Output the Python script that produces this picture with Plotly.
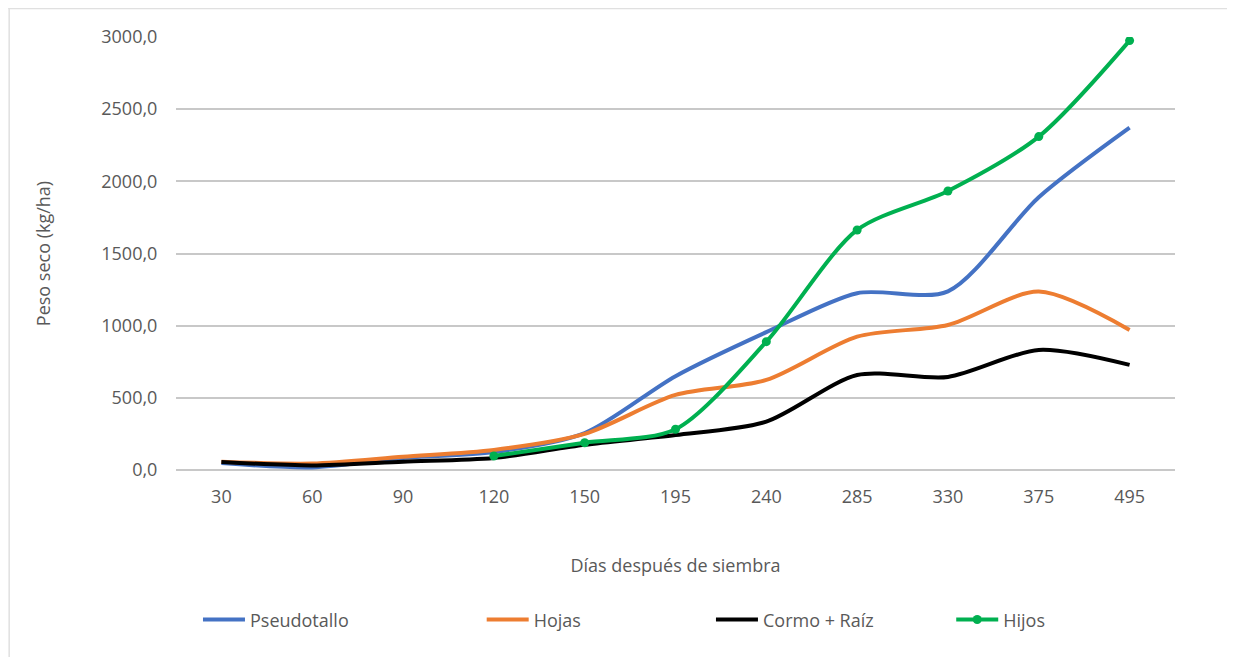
import plotly.graph_objects as go

dias = ["30", "60", "90", "120", "150", "195", "240", "285", "330", "375", "495"]

pseudotallo = [48, 18, 83, 125, 256, 650, 955, 1225, 1238, 1890, 2372]
hojas = [58, 45, 92, 139, 250, 520, 624, 924, 1005, 1236, 970]
cormo_raiz = [55, 32, 58, 83, 175, 242, 335, 658, 645, 832, 728]
hijos_x = ["120", "150", "195", "240", "285", "330", "375", "495"]
hijos = [97, 189, 282, 889, 1663, 1933, 2310, 2975]

gris = "#595959"
fuente = "Open Sans, Liberation Sans, Arial, sans-serif"
tam = 18

fig = go.Figure()

fig.add_trace(go.Scatter(x=dias, y=pseudotallo, name="Pseudotallo", mode="lines", legend="legend",
                         line=dict(color="#4472C4", width=4, shape="spline", smoothing=0.8)))
fig.add_trace(go.Scatter(x=dias, y=hojas, name="Hojas", mode="lines", legend="legend2",
                         line=dict(color="#ED7D31", width=4, shape="spline", smoothing=0.8)))
fig.add_trace(go.Scatter(x=dias, y=cormo_raiz, name="Cormo + Raíz", mode="lines", legend="legend3",
                         line=dict(color="#000000", width=4, shape="spline", smoothing=0.8)))
fig.add_trace(go.Scatter(x=hijos_x, y=hijos, name="Hijos", mode="lines+markers", legend="legend4",
                         line=dict(color="#00B050", width=4, shape="spline", smoothing=0.8),
                         marker=dict(size=9, color="#00B050")))

# borde superior e izquierdo del area del grafico
fig.add_shape(type="line", xref="paper", yref="paper",
              x0=-0.168, x1=1.08, y0=1.066, y1=1.066,
              line=dict(color="#e0e0e0", width=1.5))
fig.add_shape(type="line", xref="paper", yref="paper",
              x0=-0.167, x1=-0.167, y0=1.066, y1=-0.46,
              line=dict(color="#e0e0e0", width=1.5))


def leyenda(xpos):
    return dict(orientation="h", x=xpos, xanchor="left", y=-0.346, yanchor="middle",
                font=dict(size=tam, color=gris), itemwidth=42, bgcolor="rgba(0,0,0,0)")


fig.update_layout(
    width=1235, height=657,
    margin=dict(l=168, r=68, t=29, b=195, autoexpand=False),
    paper_bgcolor="white", plot_bgcolor="white",
    separators=",.",
    font=dict(family=fuente, size=tam, color=gris),
    showlegend=True,
    legend=leyenda(0.022),
    legend2=leyenda(0.306),
    legend3=leyenda(0.5355),
    legend4=leyenda(0.776),
    xaxis=dict(type="category", categoryorder="array", categoryarray=dias,
               range=[-0.5, len(dias) - 0.5],
               showgrid=False, showline=False,
               ticks="outside", ticklen=10, tickcolor="white",
               title=dict(text="Días después de siembra", standoff=52,
                          font=dict(size=tam, color=gris)),
               tickfont=dict(size=tam, color=gris)),
    yaxis=dict(range=[0, 3000], dtick=500, tickformat=".1f",
               showgrid=True, gridcolor="#c8c8c8", gridwidth=1.5,
               zeroline=True, zerolinecolor="#c8c8c8", zerolinewidth=1.5,
               showline=False,
               ticks="outside", ticklen=14, tickcolor="white",
               title=dict(text="Peso seco (kg/ha)", standoff=45,
                          font=dict(size=tam, color=gris)),
               tickfont=dict(size=tam, color=gris)),
)

fig.write_html("out.html")
